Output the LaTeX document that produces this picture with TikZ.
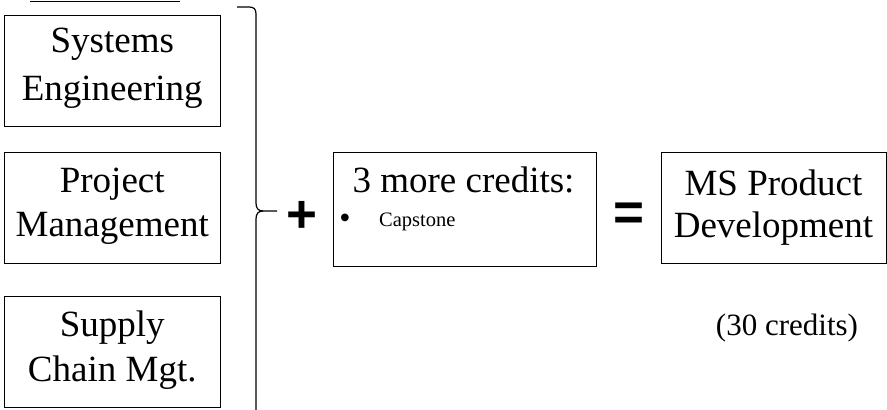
\documentclass[tikz,border=0pt]{standalone}
\usepackage{fontspec}
\setmainfont{Liberation Serif}
\newfontfamily\arialfont{Liberation Sans}
\begin{document}
\begin{tikzpicture}[x=1pt,y=-1pt,
  box/.style={draw=black, line width=1pt, inner sep=0pt},
  lbl/.style={anchor=base, inner sep=0pt, font=\fontsize{37}{44}\selectfont},
  small/.style={anchor=base west, inner sep=0pt, font=\fontsize{20.5}{24}\selectfont},
  sym/.style={inner sep=0pt, font=\arialfont\bfseries\fontsize{53}{53}\selectfont},
  bracestyle/.style={line width=1.2pt, line join=round}]
\useasboundingbox (0,0) rectangle (887,410);
\clip (0,0) rectangle (887,410);
% top cut-off underline
\coordinate (ulA) at (30,1.5);
\coordinate (ulB) at (180,1.5);
\draw[line width=1.5pt] (ulA) -- (ulB);
% left boxes
\node[box, minimum width=216.5pt, minimum height=111.5pt] (se) at (112.25,70.75) {};
\node[box, minimum width=216.5pt, minimum height=111pt] (pm) at (112.25,208) {};
\node[box, minimum width=216.5pt, minimum height=111pt] (sc) at (112.25,351.5) {};
\node[lbl] (se1) at (112.25,52.3) {Systems};
\node[lbl] (se2) at (112.25,100) {Engineering};
\node[lbl] (pm1) at (112.25,192.3) {Project};
\node[lbl] (pm2) at (112.25,236.5) {Management};
\node[lbl] (sc1) at (112.25,336.5) {Supply};
\node[lbl] (sc2) at (112.25,381.5) {Chain Mgt.};
% brace
\coordinate (brTop) at (237,7);
\coordinate (brTip) at (277,211);
\coordinate (brBot) at (256,414);
\draw[bracestyle] (brTop) -- (249,7) .. controls (254,7) and (256,9) .. (256,14)
  -- (256,203) .. controls (256,208) and (258,211) .. (263,211) -- (brTip);
\draw[bracestyle] (263,211) .. controls (258,211) and (256,214) .. (256,219) -- (brBot);
% plus
\node[sym] (plus) at (301.5,216.5) {+};
% middle box
\node[box, minimum width=263pt, minimum height=114pt] (cap) at (464.5,209) {};
\node[lbl] (cap1) at (463.5,192.7) {3 more credits:};
\node[inner sep=0pt, font=\fontsize{32}{32}\selectfont] (bul) at (345,221) {•};
\node[small] (cap2) at (379,226) {Capstone};
% equals
\node[sym] (eq) at (629,217) {=};
% result box
\node[box, minimum width=225pt, minimum height=111pt] (ms) at (773.5,207.5) {};
\node[lbl] (ms1) at (773.5,195) {MS Product};
\node[lbl] (ms2) at (773.5,237.5) {Development};
\node[anchor=base, inner sep=0pt, font=\fontsize{31}{36}\selectfont] (cr) at (787,335) {(30 credits)};
\end{tikzpicture}
\end{document}
